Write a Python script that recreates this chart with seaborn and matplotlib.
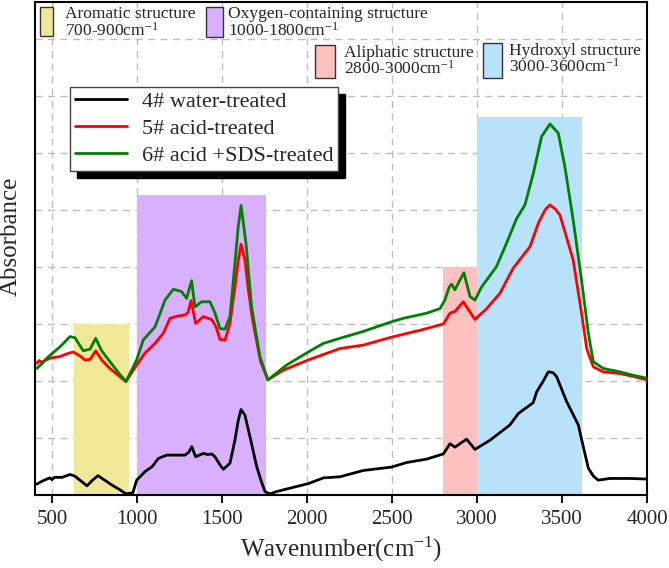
import pandas as pd
import seaborn as sns
import matplotlib.pyplot as plt
from matplotlib.patches import Rectangle

# spectra (wavenumber cm-1, absorbance in arbitrary units)
wn_4 = [410, 440, 470, 488, 500, 515, 560, 606, 635, 706, 735, 770, 800, 850, 900, 935, 976,
        998, 1047, 1090, 1125, 1175, 1230, 1282, 1305, 1322, 1345, 1390, 1415, 1440, 1459, 1490,
        1508, 1547, 1576, 1595, 1612, 1635, 1670, 1704, 1730, 1753, 1782, 1821, 1900, 2008, 2096,
        2194, 2331, 2498, 2586, 2704, 2802, 2841, 2870, 2900, 2939, 2988, 3076, 3194, 3243, 3331,
        3351, 3390, 3419, 3445, 3468, 3527, 3596, 3625, 3655, 3685, 3713, 3782, 3900, 3998]
abs_4 = [0.19, 0.24, 0.28, 0.30, 0.27, 0.31, 0.31, 0.36, 0.33, 0.16, 0.25, 0.34, 0.28, 0.18, 0.09,
         0.02, 0.04, 0.26, 0.41, 0.50, 0.64, 0.70, 0.70, 0.70, 0.75, 0.85, 0.67, 0.73, 0.71, 0.72,
         0.67, 0.52, 0.45, 0.56, 0.96, 1.30, 1.50, 1.40, 0.95, 0.50, 0.25, 0.06, 0.02, 0.06, 0.12,
         0.20, 0.30, 0.32, 0.43, 0.49, 0.57, 0.63, 0.72, 0.90, 0.84, 0.90, 0.98, 0.80, 0.96, 1.23,
         1.43, 1.62, 1.81, 2.00, 2.16, 2.15, 2.08, 1.64, 1.23, 0.85, 0.47, 0.33, 0.26, 0.29, 0.29,
         0.28]

wn_5 = [410, 425, 439, 488, 547, 590, 625, 660, 694, 724, 757, 792, 841, 890, 935, 998, 1047,
        1106, 1155, 1194, 1240, 1282, 1300, 1318, 1345, 1390, 1439, 1465, 1488, 1518, 1547, 1576,
        1595, 1612, 1635, 1655, 1680, 1727, 1770, 1861, 2008, 2194, 2331, 2498, 2665, 2802, 2841,
        2870, 2919, 2988, 3057, 3135, 3213, 3312, 3361, 3400, 3429, 3460, 3488, 3517, 3566, 3615,
        3645, 3684, 3743, 3841, 3920, 3998]
abs_5 = [2.31, 2.36, 2.33, 2.40, 2.43, 2.48, 2.51, 2.45, 2.37, 2.38, 2.53, 2.37, 2.22, 2.10, 1.99,
         2.28, 2.49, 2.66, 2.84, 3.10, 3.14, 3.16, 3.20, 3.41, 3.01, 3.13, 3.08, 2.95, 2.73, 2.72,
         3.01, 3.65, 4.10, 4.40, 4.12, 3.60, 3.07, 2.34, 2.02, 2.19, 2.37, 2.57, 2.63, 2.77, 2.89,
         3.00, 3.19, 3.22, 3.39, 3.08, 3.27, 3.54, 3.98, 4.36, 4.77, 5.00, 5.09, 5.02, 4.91, 4.62,
         4.12, 3.19, 2.57, 2.25, 2.16, 2.13, 2.08, 2.02]

wn_6 = [410, 440, 469, 547, 606, 635, 684, 724, 757, 792, 841, 890, 935, 998, 1037, 1106, 1165,
        1214, 1262, 1292, 1321, 1341, 1380, 1429, 1459, 1488, 1518, 1547, 1576, 1595, 1612, 1641,
        1674, 1723, 1770, 1880, 2008, 2096, 2194, 2331, 2498, 2566, 2704, 2782, 2811, 2837, 2851,
        2870, 2910, 2923, 2959, 2988, 3027, 3115, 3174, 3233, 3282, 3331, 3380, 3429, 3478, 3517,
        3566, 3615, 3655, 3684, 3743, 3841, 3920, 3998]
abs_6 = [2.22, 2.30, 2.40, 2.60, 2.78, 2.76, 2.53, 2.56, 2.75, 2.53, 2.34, 2.15, 1.99, 2.37, 2.72,
         2.95, 3.42, 3.61, 3.57, 3.45, 3.76, 3.30, 3.39, 3.39, 3.19, 2.92, 2.91, 3.13, 4.06, 4.70,
         5.08, 4.42, 3.30, 2.43, 2.02, 2.28, 2.51, 2.66, 2.75, 2.87, 3.04, 3.10, 3.19, 3.27, 3.42,
         3.65, 3.70, 3.60, 3.83, 3.90, 3.48, 3.42, 3.65, 4.01, 4.42, 4.85, 5.09, 5.64, 6.29, 6.51,
         6.35, 5.76, 4.82, 3.77, 2.84, 2.34, 2.22, 2.16, 2.10, 2.05]

samples = ['4# water-treated', '5# acid-treated', '6# acid +SDS-treated']
line_colors = ['black', 'red', 'green']

# shaded regions
band_lo = [630, 1000, 2800, 3000]
band_hi = [950, 1760, 3000, 3620]
band_top = [3.0, 5.26, 4.0, 6.63]
band_colors = ['#F0E896', '#D8B0FE', '#FFC0C0', '#B8E2FA']
band_names = ['Aromatic structure', 'Oxygen-containing structure',
              'Aliphatic structure', 'Hydroxyl structure']
band_ranges = ['700-900cm$^{-1}$', '1000-1800cm$^{-1}$',
               '2800-3000cm$^{-1}$', '3000-3600cm$^{-1}$']

df = pd.concat([
    pd.DataFrame({'wn': wn_4, 'A': abs_4, 'sample': samples[0]}),
    pd.DataFrame({'wn': wn_5, 'A': abs_5, 'sample': samples[1]}),
    pd.DataFrame({'wn': wn_6, 'A': abs_6, 'sample': samples[2]}),
])

sns.set_style('whitegrid')
plt.rcParams['font.family'] = ['Liberation Serif', 'DejaVu Serif']
plt.rcParams['mathtext.fontset'] = 'custom'
plt.rcParams['mathtext.rm'] = 'Liberation Serif'
plt.rcParams['mathtext.it'] = 'Liberation Serif:italic'

fig = plt.figure(figsize=(6.69, 5.68), dpi=100)
ax = fig.add_axes([35 / 669, 73 / 568, 612 / 669, 493 / 568])

for lo, hi, top, c in zip(band_lo, band_hi, band_top, band_colors):
    ax.fill_between([lo, hi], 0, top, color=c, lw=0, zorder=1)

sns.lineplot(data=df, x='wn', y='A', hue='sample', palette=line_colors,
             estimator=None, sort=True, lw=2, ax=ax, zorder=3)

ax.set_xlim(400, 4000)
ax.set_ylim(0, 8.65)
ax.set_xticks(range(500, 4001, 500))
ax.set_yticks(range(1, 9))
ax.set_yticklabels([])
ax.grid(True, color='#BDBDBD', lw=1, ls=(0, (5, 4)))
ax.set_axisbelow(True)
for s in ax.spines.values():
    s.set_color('black')
    s.set_linewidth(1.5)
ax.tick_params(axis='x', direction='out', length=6, width=1.3, color='black',
               labelsize=15, pad=5, bottom=True)
ax.tick_params(axis='y', length=0)
ax.set_xlabel('Wavenumber(cm$^{-1}$)', fontsize=18, labelpad=4)
ax.set_ylabel('Absorbance', fontsize=18)
ax.yaxis.set_label_coords(-0.021, 0.525)

leg = ax.legend(loc='upper left', bbox_to_anchor=(0.058, 0.828), borderaxespad=0,
                fontsize=16, handlelength=2.35, handletextpad=0.68, labelspacing=0.3,
                borderpad=0.2, fancybox=False, edgecolor='#444444', framealpha=1,
                shadow={'ox': 5, 'oy': -5, 'facecolor': 'black', 'edgecolor': 'black', 'alpha': 1})
leg.get_frame().set_linewidth(1)

# band key at the top of the axes
box_x = [0.0082, 0.279, 0.4575, 0.7315]
box_y = [0.931, 0.929, 0.846, 0.846]
box_w = [0.0212, 0.0278, 0.0327, 0.031]
box_h = [0.059, 0.061, 0.067, 0.071]
txt_x = [0.049, 0.315, 0.5054, 0.775]
txt_top = [0.991, 0.991, 0.913, 0.917]
for i in range(4):
    ax.add_patch(Rectangle((box_x[i], box_y[i]), box_w[i], box_h[i], transform=ax.transAxes,
                           facecolor=band_colors[i], edgecolor='#333333', lw=1, zorder=5))
    ax.text(txt_x[i], txt_top[i], band_names[i] + '\n' + band_ranges[i], transform=ax.transAxes,
            fontsize=12.5, va='top', ha='left', linespacing=0.95, zorder=5)

fig.savefig('out.png', dpi=100)
